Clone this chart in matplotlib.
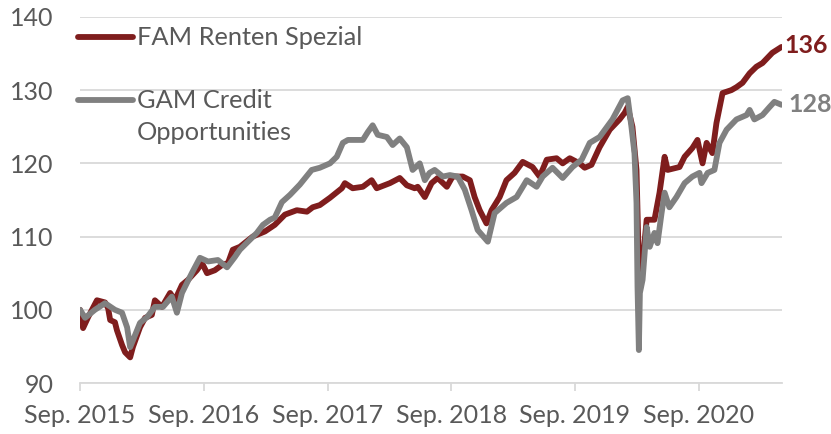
import pandas as pd
import matplotlib.pyplot as plt

plt.rcParams['font.family'] = ['Lato', 'DejaVu Sans']

fam_dates = [
    '2015-09-01', '2015-09-10', '2015-09-25', '2015-10-21', '2015-11-14', '2015-11-23',
    '2015-11-29', '2015-12-13', '2015-12-19', '2016-01-03', '2016-01-12', '2016-01-27',
    '2016-02-04', '2016-02-25', '2016-03-11', '2016-03-31', '2016-04-09', '2016-04-30',
    '2016-05-24', '2016-06-07', '2016-06-28', '2016-07-16', '2016-08-11', '2016-08-26',
    '2016-09-10', '2016-10-03', '2016-10-24', '2016-11-11', '2016-11-25', '2016-12-16',
    '2017-01-23', '2017-02-28', '2017-03-29', '2017-04-28', '2017-06-02', '2017-07-02',
    '2017-07-19', '2017-08-09', '2017-09-08', '2017-10-13', '2017-10-22', '2017-11-14',
    '2017-12-14', '2018-01-09', '2018-01-24', '2018-03-04', '2018-04-02', '2018-04-23',
    '2018-05-16', '2018-05-25', '2018-06-15', '2018-07-05', '2018-07-23', '2018-08-19',
    '2018-09-05', '2018-10-05', '2018-10-26', '2018-11-09', '2018-11-24', '2018-12-14',
    '2018-12-29', '2019-01-22', '2019-02-11', '2019-03-07', '2019-03-31', '2019-04-29',
    '2019-05-20', '2019-06-10', '2019-07-09', '2019-07-27', '2019-08-17', '2019-09-15',
    '2019-09-30', '2019-10-20', '2019-11-13', '2019-12-13', '2020-01-11', '2020-01-26',
    '2020-02-04', '2020-02-18', '2020-03-01', '2020-03-08', '2020-03-12', '2020-03-16',
    '2020-03-31', '2020-04-23', '2020-05-08', '2020-05-23', '2020-06-01', '2020-07-06',
    '2020-07-21', '2020-08-13', '2020-08-28', '2020-09-12', '2020-09-24', '2020-10-11',
    '2020-10-23', '2020-11-10', '2020-12-06', '2020-12-21', '2021-01-08', '2021-01-29',
    '2021-02-18', '2021-03-08', '2021-04-06', '2021-05-03',
]
fam_values = [
    100.0, 97.5, 99.0, 101.3, 101.0, 100.2,
    98.6, 98.3, 97.2, 95.2, 94.2, 93.5,
    94.9, 97.6, 98.9, 99.3, 101.3, 100.4,
    102.3, 101.3, 103.4, 104.1, 105.4, 106.4,
    105.0, 105.4, 106.1, 106.4, 108.2, 108.6,
    110.0, 110.7, 111.6, 113.0, 113.6, 113.4,
    114.0, 114.3, 115.3, 116.6, 117.3, 116.6,
    116.8, 117.7, 116.6, 117.3, 118.0, 117.0,
    116.6, 116.8, 115.4, 117.3, 118.0, 116.8,
    118.2, 118.2, 117.7, 115.4, 113.6, 111.8,
    113.6, 115.4, 117.7, 118.7, 120.2, 119.5,
    118.2, 120.5, 120.7, 120.0, 120.7, 120.0,
    119.4, 119.8, 122.2, 124.6, 126.0, 126.9,
    127.7, 125.0, 119.1, 106.0, 103.0, 105.0,
    112.3, 112.3, 116.0, 120.9, 119.1, 119.5,
    120.9, 122.1, 123.2, 120.0, 122.8, 121.4,
    125.5, 129.6, 130.0, 130.4, 131.0, 132.3,
    133.2, 133.7, 135.1, 135.9,
]

gam_dates = [
    '2015-09-01', '2015-09-16', '2015-10-15', '2015-11-14', '2015-12-13', '2016-01-03',
    '2016-01-18', '2016-01-27', '2016-02-04', '2016-02-25', '2016-03-17', '2016-04-09',
    '2016-05-03', '2016-05-29', '2016-06-13', '2016-06-28', '2016-07-27', '2016-08-20',
    '2016-09-13', '2016-10-12', '2016-11-08', '2016-12-01', '2016-12-16', '2017-02-04',
    '2017-02-22', '2017-03-15', '2017-03-29', '2017-04-19', '2017-05-13', '2017-06-11',
    '2017-07-16', '2017-08-09', '2017-09-08', '2017-09-28', '2017-10-16', '2017-10-31',
    '2017-12-14', '2017-12-29', '2018-01-12', '2018-01-27', '2018-02-23', '2018-03-12',
    '2018-04-02', '2018-04-23', '2018-05-10', '2018-05-31', '2018-06-15', '2018-06-29',
    '2018-07-14', '2018-08-07', '2018-08-28', '2018-09-20', '2018-10-11', '2018-10-31',
    '2018-11-18', '2018-12-18', '2019-01-07', '2019-02-11', '2019-03-13', '2019-04-12',
    '2019-05-11', '2019-05-29', '2019-06-27', '2019-07-27', '2019-08-25', '2019-09-21',
    '2019-10-15', '2019-11-13', '2019-12-21', '2020-01-20', '2020-02-04', '2020-02-15',
    '2020-02-24', '2020-03-01', '2020-03-04', '2020-03-08', '2020-03-11', '2020-03-19',
    '2020-03-31', '2020-04-09', '2020-04-23', '2020-05-02', '2020-05-14', '2020-05-23',
    '2020-06-06', '2020-06-27', '2020-07-21', '2020-08-13', '2020-09-03', '2020-09-09',
    '2020-09-27', '2020-10-17', '2020-11-01', '2020-11-22', '2020-12-21', '2021-01-20',
    '2021-01-29', '2021-02-12', '2021-03-08', '2021-03-29', '2021-04-12', '2021-05-03',
]
gam_values = [
    100.0, 98.9, 100.0, 100.9, 100.0, 99.6,
    97.6, 94.9, 95.8, 98.2, 99.0, 100.4,
    100.4, 101.8, 99.6, 102.3, 105.0, 107.1,
    106.6, 106.8, 105.8, 107.2, 108.2, 110.5,
    111.6, 112.3, 112.6, 114.7, 115.7, 117.1,
    119.1, 119.4, 120.0, 120.9, 122.8, 123.2,
    123.2, 124.3, 125.2, 123.9, 123.6, 122.5,
    123.4, 122.2, 119.1, 120.0, 117.7, 118.7,
    119.1, 118.2, 118.4, 118.2, 116.4, 113.6,
    110.9, 109.3, 113.2, 114.6, 115.4, 117.7,
    116.8, 118.2, 119.4, 118.0, 119.5, 120.5,
    122.8, 123.6, 126.0, 128.6, 128.9, 125.0,
    121.4, 114.6, 103.1, 94.5, 102.3, 104.1,
    111.3, 108.6, 110.5, 109.1, 113.2, 116.0,
    114.0, 115.4, 117.3, 118.2, 118.7, 117.3,
    118.7, 119.1, 122.8, 124.6, 126.0, 126.6,
    127.3, 126.0, 126.6, 127.7, 128.4, 128.0,
]

tick_dates = ['2015-09-01', '2016-09-01', '2017-09-01', '2018-09-01', '2019-09-01', '2020-09-01']
tick_labels = ['Sep. 2015', 'Sep. 2016', 'Sep. 2017', 'Sep. 2018', 'Sep. 2019', 'Sep. 2020']

red = '#7f1d1d'
grey = '#808080'
text_grey = '#595959'
lw = 4.2

fam = pd.Series(fam_values, index=pd.to_datetime(fam_dates))
gam = pd.Series(gam_values, index=pd.to_datetime(gam_dates))

fig = plt.figure(figsize=(8.31, 4.34), dpi=100)
ax = fig.add_axes([0.0963, 0.1175, 0.8445, 0.8435])

ax.plot(fam.index, fam.values, color=red, lw=lw, solid_joinstyle='round', solid_capstyle='round', zorder=3)
ax.plot(gam.index, gam.values, color=grey, lw=lw, solid_joinstyle='round', solid_capstyle='round', zorder=4)

ax.set_ylim(90, 140)
ax.set_yticks([90, 100, 110, 120, 130, 140])
ax.set_xlim(pd.Timestamp('2015-09-01'), pd.Timestamp('2021-05-04'))
ax.set_xticks(pd.to_datetime(tick_dates))
ax.set_xticklabels(tick_labels)

ax.grid(axis='y', color='#d9d9d9', lw=1.3)
ax.set_axisbelow(True)
for s in ['top', 'right', 'left']:
    ax.spines[s].set_visible(False)
ax.spines['bottom'].set_color('#d9d9d9')
ax.spines['bottom'].set_linewidth(1.3)
ax.tick_params(axis='y', length=0, pad=19, labelsize=18, labelcolor=text_grey)
ax.tick_params(axis='x', length=6, width=1.3, color='#d9d9d9', pad=9, labelsize=18, labelcolor=text_grey)

# legend drawn by hand, as in the original
ax.plot([-0.003, 0.0755], [0.945, 0.945], color=red, lw=lw, solid_capstyle='round',
        transform=ax.transAxes, clip_on=False)
ax.text(0.081, 0.945, 'FAM Renten Spezial', transform=ax.transAxes, fontsize=18.3,
        color=text_grey, va='center', ha='left')
ax.plot([-0.003, 0.0755], [0.773, 0.773], color=grey, lw=lw, solid_capstyle='round',
        transform=ax.transAxes, clip_on=False)
ax.text(0.081, 0.773, 'GAM Credit', transform=ax.transAxes, fontsize=18.3,
        color=text_grey, va='center', ha='left')
ax.text(0.081, 0.683, 'Opportunities', transform=ax.transAxes, fontsize=18.3,
        color=text_grey, va='center', ha='left')

# end labels
ax.annotate(f'{fam.values[-1]:.0f}', (fam.index[-1], fam.values[-1]), xytext=(2, 1),
            textcoords='offset points', fontsize=18, fontweight='bold', color=red,
            va='center', ha='left', annotation_clip=False)
ax.annotate(f'{gam.values[-1]:.0f}', (gam.index[-1], gam.values[-1]), xytext=(5, 0),
            textcoords='offset points', fontsize=18, fontweight='bold', color=grey,
            va='center', ha='left', annotation_clip=False)

fig.savefig('out.png', dpi=100)
